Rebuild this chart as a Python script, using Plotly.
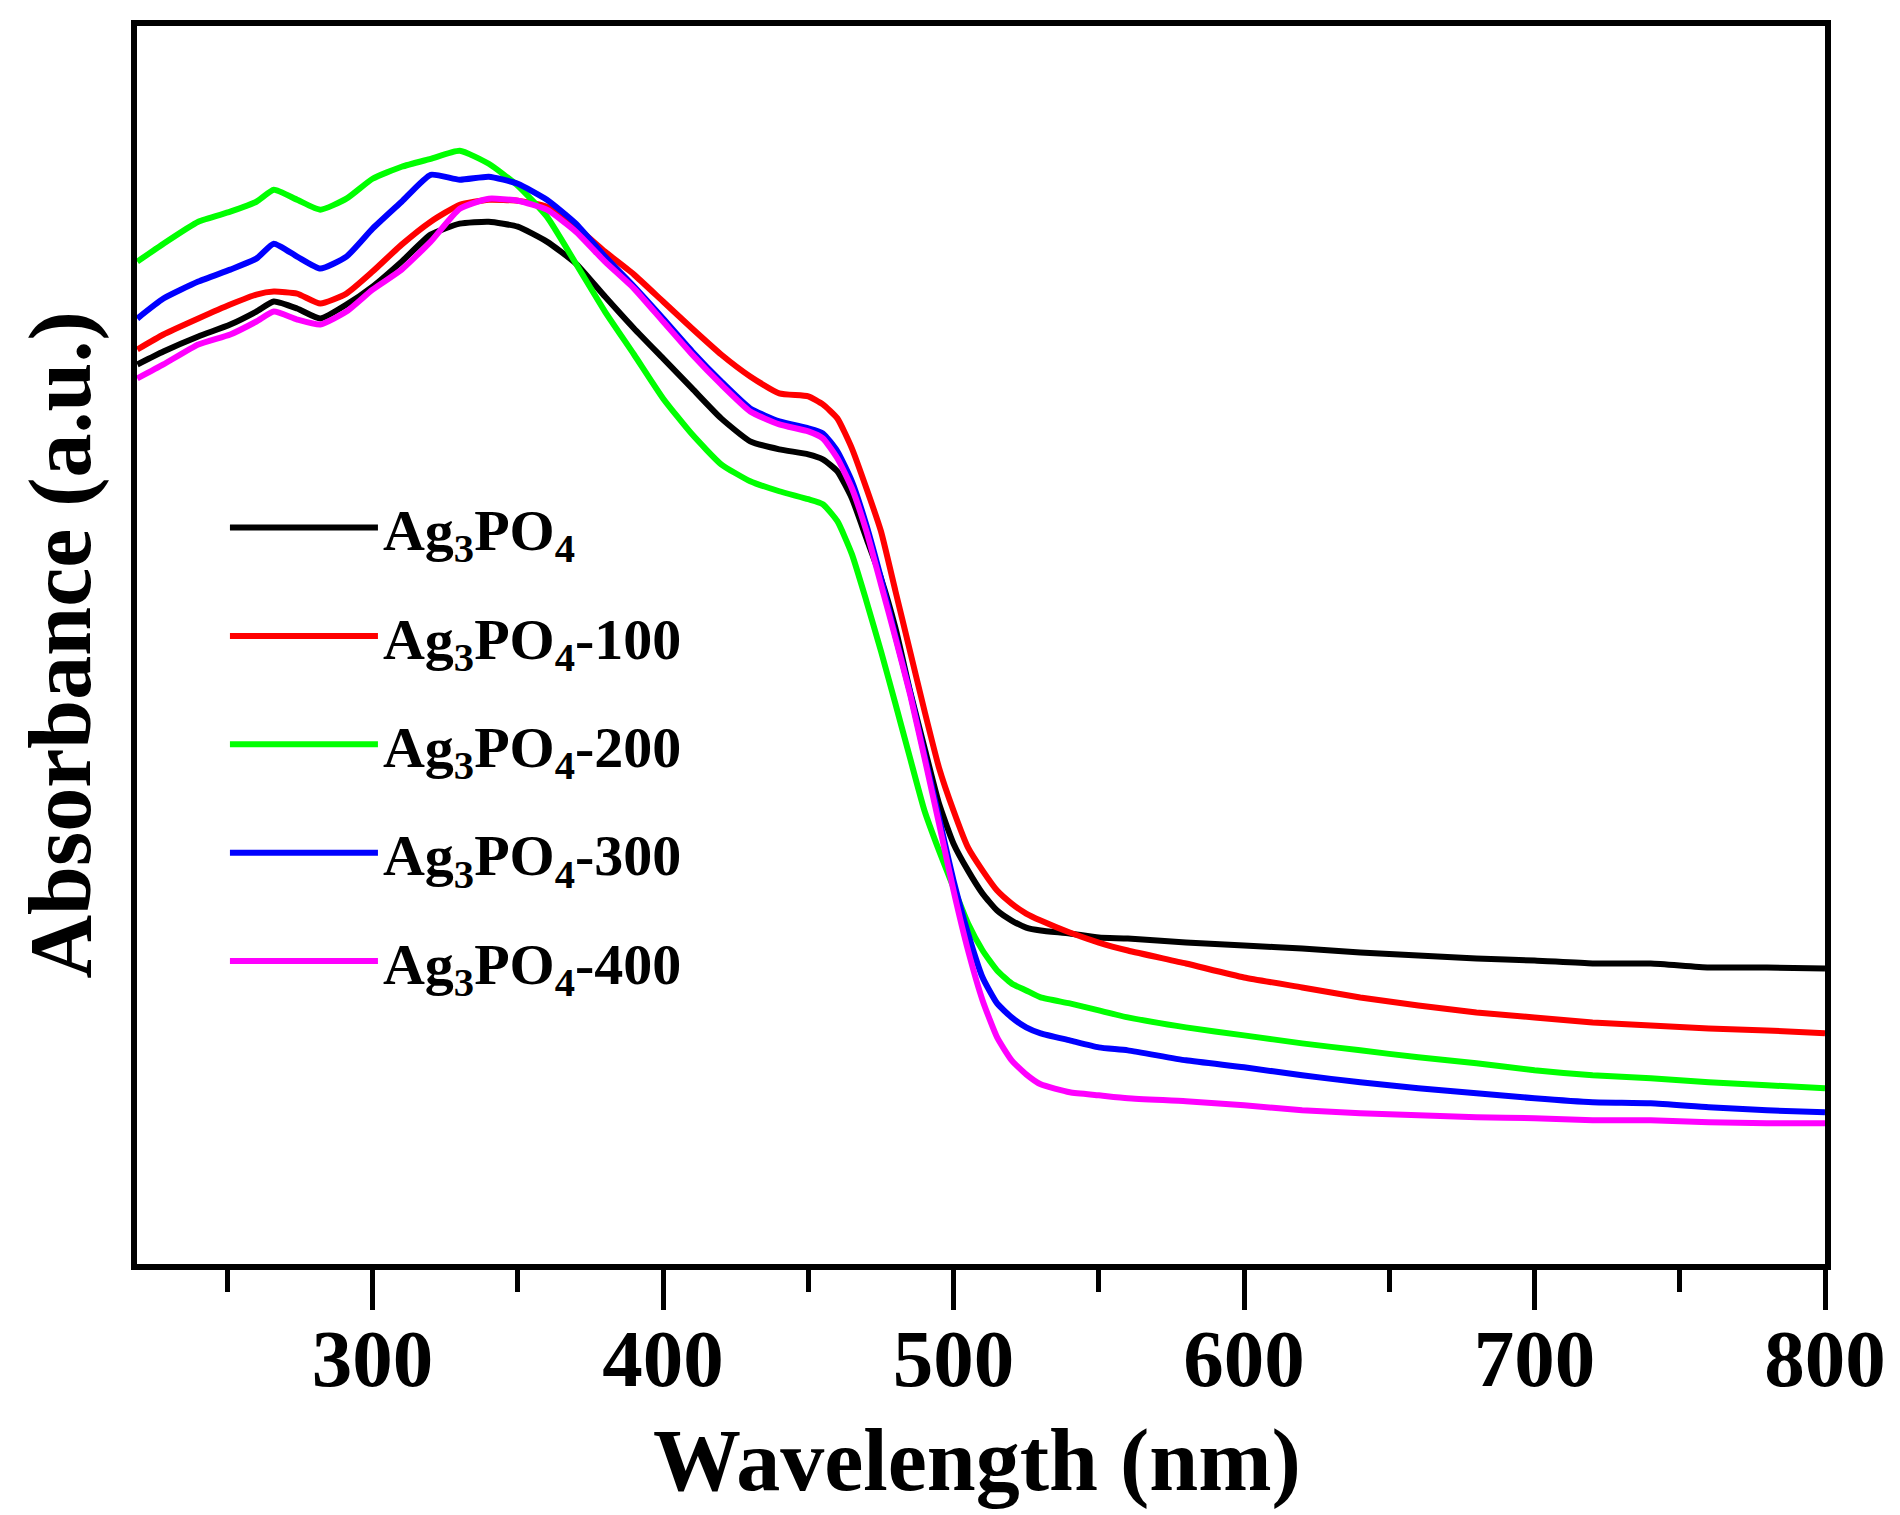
import plotly.graph_objs as go

# wavelength grid (nm) shared by every spectrum
wl = [219, 228, 240, 251, 260, 266, 274, 282, 291, 300, 310, 320, 330, 340,
      350, 360, 370, 380, 390, 400, 410, 420, 430, 440, 450, 455, 460, 465,
      470, 475, 480, 485, 490, 495, 500, 505, 510, 515, 520, 525, 530, 540,
      550, 560, 580, 600, 620, 640, 660, 680, 700, 720, 740, 760, 780, 800]

# absorbance (a.u.)
ag3po4 = [0.904, 0.917, 0.932, 0.944, 0.957, 0.967, 0.960, 0.950, 0.964, 0.982,
          1.007, 1.034, 1.045, 1.047, 1.042, 1.027, 1.005, 0.972, 0.940, 0.910,
          0.880, 0.850, 0.827, 0.819, 0.814, 0.809, 0.797, 0.770, 0.730, 0.690,
          0.640, 0.577, 0.520, 0.464, 0.424, 0.397, 0.374, 0.357, 0.347, 0.340,
          0.337, 0.334, 0.330, 0.329, 0.325, 0.322, 0.319, 0.315, 0.312, 0.309,
          0.307, 0.304, 0.304, 0.300, 0.300, 0.299]
ag3po4_100 = [0.919, 0.934, 0.950, 0.964, 0.974, 0.977, 0.975, 0.965, 0.975, 0.997,
              1.024, 1.047, 1.064, 1.069, 1.068, 1.062, 1.042, 1.017, 0.994, 0.967,
              0.940, 0.914, 0.892, 0.875, 0.872, 0.864, 0.850, 0.820, 0.780, 0.737,
              0.677, 0.617, 0.557, 0.500, 0.457, 0.420, 0.397, 0.377, 0.364, 0.354,
              0.347, 0.335, 0.325, 0.317, 0.304, 0.290, 0.280, 0.270, 0.262, 0.255,
              0.250, 0.245, 0.242, 0.239, 0.237, 0.234]
ag3po4_200 = [1.007, 1.025, 1.047, 1.057, 1.067, 1.079, 1.069, 1.059, 1.070, 1.090,
              1.102, 1.110, 1.118, 1.105, 1.083, 1.052, 1.005, 0.957, 0.914, 0.870,
              0.834, 0.804, 0.787, 0.777, 0.769, 0.764, 0.747, 0.714, 0.667, 0.617,
              0.564, 0.510, 0.457, 0.417, 0.380, 0.344, 0.317, 0.297, 0.284, 0.277,
              0.270, 0.264, 0.257, 0.250, 0.240, 0.232, 0.224, 0.217, 0.210, 0.204,
              0.197, 0.192, 0.189, 0.185, 0.182, 0.179]
ag3po4_300 = [0.950, 0.970, 0.987, 0.999, 1.010, 1.025, 1.012, 1.000, 1.012, 1.040,
              1.067, 1.094, 1.089, 1.092, 1.085, 1.069, 1.045, 1.012, 0.982, 0.950,
              0.917, 0.887, 0.860, 0.847, 0.840, 0.835, 0.817, 0.787, 0.743, 0.690,
              0.632, 0.576, 0.513, 0.450, 0.387, 0.334, 0.290, 0.264, 0.250, 0.240,
              0.234, 0.227, 0.220, 0.217, 0.207, 0.200, 0.192, 0.185, 0.179, 0.174,
              0.169, 0.165, 0.164, 0.160, 0.157, 0.155]
ag3po4_400 = [0.890, 0.904, 0.924, 0.934, 0.947, 0.957, 0.949, 0.944, 0.957, 0.979,
              0.999, 1.027, 1.060, 1.070, 1.068, 1.059, 1.037, 1.007, 0.980, 0.947,
              0.914, 0.884, 0.857, 0.844, 0.837, 0.830, 0.810, 0.780, 0.737, 0.684,
              0.630, 0.574, 0.510, 0.444, 0.377, 0.317, 0.267, 0.230, 0.207, 0.193,
              0.183, 0.175, 0.172, 0.169, 0.166, 0.162, 0.157, 0.154, 0.152, 0.150,
              0.149, 0.147, 0.147, 0.145, 0.144, 0.144]

names = ['Ag<sub>3</sub>PO<sub>4</sub>',
         'Ag<sub>3</sub>PO<sub>4</sub>-100',
         'Ag<sub>3</sub>PO<sub>4</sub>-200',
         'Ag<sub>3</sub>PO<sub>4</sub>-300',
         'Ag<sub>3</sub>PO<sub>4</sub>-400']
series = [ag3po4, ag3po4_100, ag3po4_200, ag3po4_300, ag3po4_400]
colors = ['#000000', '#ff0000', '#00ff00', '#0000ff', '#ff00ff']

font = 'Liberation Serif, Times New Roman, serif'

# one trace per sample, each in its own legend group so the rows can be spaced
data = [go.Scatter(
    x=wl,
    y=vals,
    mode='lines',
    name=name,
    legendgroup=str(i),
    line=dict(color=col, width=6, shape='spline', smoothing=0.5)
    ) for i, (name, vals, col) in enumerate(zip(names, series, colors))]

# axis titles as annotations so they sit where the original has them
titles = [
    dict(text='Wavelength (nm)', xref='paper', yref='paper',
         x=0.4976, y=0, xanchor='center', yanchor='top', yshift=-146,
         showarrow=False, font=dict(size=88, family=font, weight='bold')),
    dict(text='Absorbance (a.u.)', xref='paper', yref='paper',
         x=0, y=0.5, xanchor='right', yanchor='middle', xshift=-27,
         textangle=-90, showarrow=False,
         font=dict(size=88, family=font, weight='bold')),
]

# margins allow for the 8px body margin of the html page
layout = go.Layout(
    width=1900,
    height=1515,
    margin=dict(l=129, r=83, t=16, b=259),
    paper_bgcolor='white',
    plot_bgcolor='white',
    font=dict(family=font, color='black'),
    showlegend=True,
    legend=dict(
        x=0.0521, y=0.6306, xanchor='left', yanchor='top',
        bgcolor='rgba(0,0,0,0)',
        font=dict(size=58, family=font, weight='bold'),
        itemwidth=148,
        traceorder='grouped',
        tracegroupgap=30
    ),
    annotations=titles,
    xaxis=dict(
        range=[218.9, 800],
        tick0=300, dtick=100,
        ticks='outside', ticklen=40, tickwidth=5, tickcolor='black',
        ticklabelstandoff=-21,
        minor=dict(tick0=250, dtick=50, ticks='outside', ticklen=22,
                   tickwidth=5, tickcolor='black'),
        tickfont=dict(size=81, family=font, weight='bold'),
        showline=True, linewidth=6, linecolor='black', mirror=True,
        showgrid=False, zeroline=False
    ),
    yaxis=dict(
        range=[0.003, 1.243],
        ticks='', showticklabels=False,
        showline=True, linewidth=6, linecolor='black', mirror=True,
        showgrid=False, zeroline=False
    )
)

fig = go.Figure(data=data, layout=layout)
fig.write_html('out.html')
